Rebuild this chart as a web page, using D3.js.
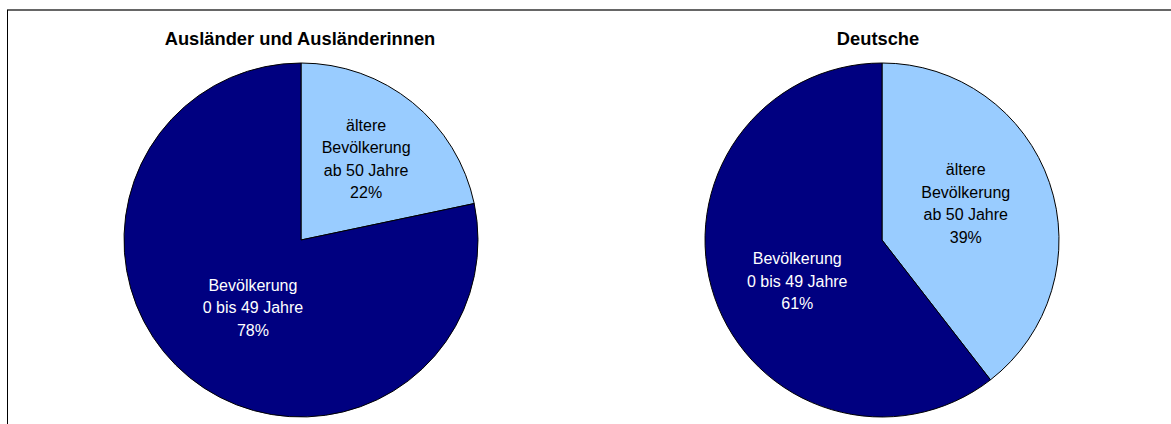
<!DOCTYPE html>
<html>
<head>
<meta charset="utf-8">
<script src="https://cdn.jsdelivr.net/npm/d3@7"></script>
<style>
  html, body { margin: 0; padding: 0; background: #ffffff; }
  svg { display: block; font-family: "Liberation Sans", Arial, sans-serif; }
</style>
</head>
<body>
<svg id="chart" width="1171" height="424"></svg>
<script>
// Data
const chartTitles = ["Ausländer und Ausländerinnen", "Deutsche"];
const categories = ["ältere Bevölkerung ab 50 Jahre", "Bevölkerung 0 bis 49 Jahre"];
const labelLines = [["ältere", "Bevölkerung", "ab 50 Jahre"], ["Bevölkerung", "0 bis 49 Jahre"]];
const auslaenderValues = [21.7, 78.3];
const deutscheValues = [39.5, 60.5];
const percentLabels = [["22%", "78%"], ["39%", "61%"]];

// Styling
const colors = ["#99CCFF", "#000080"];
const textColors = ["#000000", "#ffffff"];
// small label nudges (px) per chart, per slice
const labelNudge = [[[6, -8], [11, -5]], [[-5, -6], [4, 11]]];

const svg = d3.select("#chart");

// frame
svg.append("line").attr("x1", 7).attr("x2", 1171).attr("y1", 10).attr("y2", 10)
  .attr("stroke", "#666").attr("stroke-width", 2);
svg.append("line").attr("x1", 7.5).attr("x2", 7.5).attr("y1", 10).attr("y2", 424)
  .attr("stroke", "#000").attr("stroke-width", 1);

const radius = 177;
const centers = [[301, 240], [882, 240]];
const titleX = [300, 878];
const seriesList = [auslaenderValues, deutscheValues];

const pie = d3.pie().sort(null).value(d => d);
const arc = d3.arc().innerRadius(0).outerRadius(radius);
const labelArc = d3.arc().innerRadius(radius * 0.53).outerRadius(radius * 0.53);

seriesList.forEach((vals, i) => {
  svg.append("text")
    .attr("x", titleX[i]).attr("y", 45)
    .attr("text-anchor", "middle")
    .attr("font-size", 18.3).attr("font-weight", "bold")
    .attr("fill", "#000")
    .text(chartTitles[i]);

  const g = svg.append("g").attr("transform", `translate(${centers[i][0]},${centers[i][1]})`);
  const arcs = pie(vals);
  g.selectAll("path").data(arcs).join("path")
    .attr("d", arc)
    .attr("fill", (d, j) => colors[j])
    .attr("stroke", "#000")
    .attr("stroke-width", 1);

  arcs.forEach((d, j) => {
    let [cx, cy] = labelArc.centroid(d);
    cx += labelNudge[i][j][0];
    cy += labelNudge[i][j][1];
    const lines = labelLines[j].concat([percentLabels[i][j]]);
    const lh = 22.5;
    const startY = cy - (lines.length - 1) * lh / 2 + 5.5;
    const t = g.append("text")
      .attr("text-anchor", "middle")
      .attr("font-size", 16)
      .attr("fill", textColors[j]);
    lines.forEach((ln, k) => {
      t.append("tspan").attr("x", cx).attr("y", startY + k * lh).text(ln);
    });
  });
});
</script>
</body>
</html>
